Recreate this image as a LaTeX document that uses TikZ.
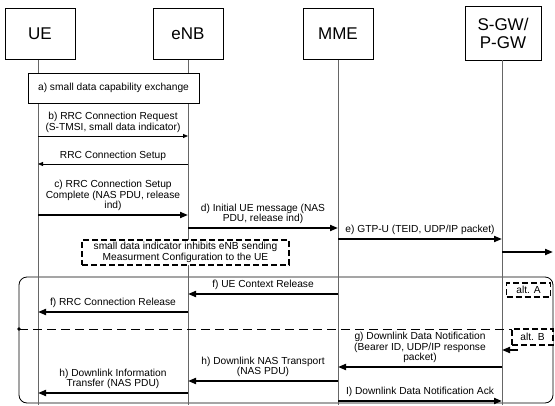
\documentclass[tikz,border=0pt]{standalone}
\usepackage{fontspec}
\setmainfont{Liberation Sans}
\usetikzlibrary{arrows.meta}
\begin{document}
\begin{tikzpicture}[x=1pt,y=-1pt,
  hdr/.style={draw, line width=0.8pt, fill=white, minimum width=70pt, minimum height=51pt, inner sep=0pt, align=center, font=\fontsize{17}{19}\selectfont},
  life/.style={line width=0.8pt, draw=black!60},
  stepbox/.style={draw, line width=0.8pt, fill=white, inner sep=0pt, align=center, font=\fontsize{10.2}{10.5}\selectfont},
  dbox/.style={draw, line width=1.8pt, dash pattern=on 6pt off 3pt, fill=white, inner sep=0pt, align=center, font=\fontsize{10.2}{10.5}\selectfont},
  thinmsg/.style={line width=0.8pt, -{Triangle[length=5pt,width=4pt]}},
  thickmsg/.style={line width=1.8pt, -{Triangle[length=8pt,width=6pt]}},
  lbl/.style={anchor=south, yshift=2pt, inner sep=1pt, align=center, font=\fontsize{10.2}{10.5}\selectfont},
  frm/.style={draw, line width=0.8pt, rounded corners=8pt, inner sep=0pt},
  sepline/.style={line width=1pt, dash pattern=on 9pt off 5pt},
]
\useasboundingbox (0,0) rectangle (555,405);

% alt frame
\node[frm, minimum width=534pt, minimum height=126pt] (altframe) at (286,340) {};

% headers
\node[hdr] (ue) at (40,34) {UE};
\node[hdr] (enb) at (188,34) {eNB};
\node[hdr] (mme) at (338,34) {MME};
\node[hdr, minimum width=76pt, minimum height=54pt] (sgw) at (503,33) {S-GW/\\[-1pt]P-GW};

% lifelines
\coordinate (ueB) at (38,405);
\coordinate (enbB) at (188,405);
\coordinate (mmeB) at (338,405);
\coordinate (sgwB) at (502,405);
\draw[life] (ue.south -| ueB) -- (ueB);
\draw[life] (enb.south -| enbB) -- (enbB);
\draw[life] (mme.south -| mmeB) -- (mmeB);
\draw[life] (sgw.south -| sgwB) -- (sgwB);

% a) box
\node[stepbox, minimum width=171pt, minimum height=30pt] (capx) at (113.5,88) {a) small data capability exchange};

% message end points
\coordinate (b1) at (38,136);  \coordinate (b2) at (188,136);
\coordinate (s1) at (188,164); \coordinate (s2) at (38,164);
\coordinate (c1) at (38,215);  \coordinate (c2) at (188,215);
\coordinate (d1) at (188,228); \coordinate (d2) at (338,228);
\coordinate (e1) at (338,239); \coordinate (e2) at (502,239);
\coordinate (o1) at (502,252); \coordinate (o2) at (553,252);
\coordinate (f1) at (338,294); \coordinate (f2) at (188,294);
\coordinate (r1) at (188,312); \coordinate (r2) at (38,312);
\coordinate (sepL) at (19,329); \coordinate (sepR) at (553,329);
\coordinate (gin) at (518,350); \coordinate (gsg) at (502,350);
\coordinate (g1) at (502,367); \coordinate (g2) at (338,367);
\coordinate (h1) at (338,381); \coordinate (h2) at (188,381);
\coordinate (i1) at (188,393); \coordinate (i2) at (38,393);
\coordinate (k1) at (338,401); \coordinate (k2) at (502,401);

% messages
\draw[thinmsg] (b1) -- node[lbl] {b) RRC Connection Request\\(S-TMSI, small data indicator)} (b2);
\draw[thinmsg] (s1) -- node[lbl] {RRC Connection Setup} (s2);
\draw[thickmsg] (c1) -- node[lbl] {c) RRC Connection Setup\\Complete (NAS PDU, release\\ind)} (c2);
\draw[thickmsg] (d1) -- node[lbl] {d) Initial UE message (NAS\\PDU, release ind)} (d2);
\draw[thickmsg] (e1) -- node[lbl] {e) GTP-U (TEID, UDP/IP packet)} (e2);
\draw[thickmsg] (o1) -- (o2);

% note
\node[dbox, minimum width=207pt, minimum height=25pt] (note) at (185.5,252.5) {small data indicator inhibits eNB sending\\Measurment Configuration to the UE};

% alternative A
\draw[thickmsg] (f1) -- node[lbl] {f) UE Context Release} (f2);
\draw[thickmsg] (r1) -- node[lbl] {f) RRC Connection Release} (r2);
\node[dbox, minimum width=44pt, minimum height=14pt] (altA) at (528.5,290) {alt. A};

% separator
\draw[sepline] (sepL) -- (sepR);
\fill (sepL) circle (1.8);

% alternative B
\draw[thickmsg] (gin) -- (gsg);
\node[dbox, minimum width=41pt, minimum height=16pt] (altB) at (532.5,337) {alt. B};
\draw[thickmsg] (g1) -- node[lbl] {g) Downlink Data Notification\\(Bearer ID, UDP/IP response\\packet)} (g2);
\draw[thickmsg] (h1) -- node[lbl] {h) Downlink NAS Transport\\(NAS PDU)} (h2);
\draw[thickmsg] (i1) -- node[lbl] {h) Downlink Information\\Transfer (NAS PDU)} (i2);
\draw[thickmsg] (k1) -- node[lbl] {I) Downlink Data Notification Ack} (k2);
\end{tikzpicture}
\end{document}
